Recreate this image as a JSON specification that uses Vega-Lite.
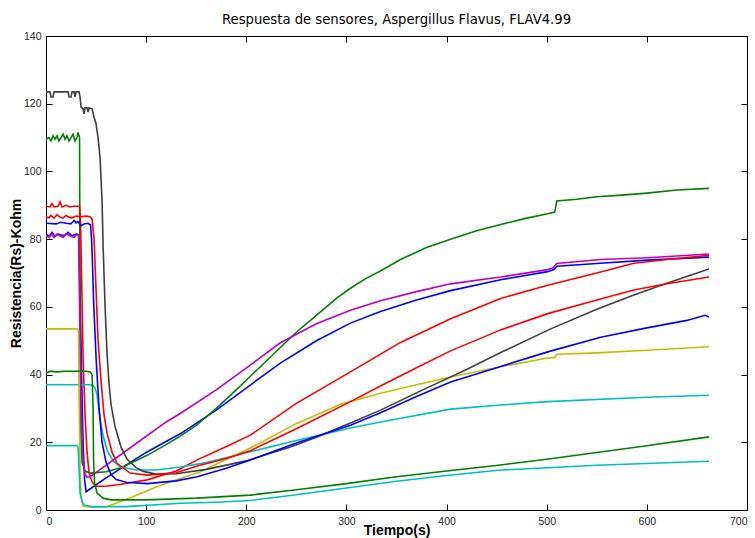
{
  "$schema": "https://vega.github.io/schema/vega-lite/v6.json",
  "autosize": "none",
  "width": 701,
  "height": 474,
  "padding": {"left": 46, "top": 36, "right": 8, "bottom": 28},
  "background": "white",
  "title": {"text": "Respuesta de sensores, Aspergillus Flavus, FLAV4.99", "font": "DejaVu Sans", "fontSize": 13.2, "fontWeight": "normal", "color": "#000000", "offset": 4, "anchor": "middle"},
  "config": {
    "view": {"stroke": "#000000", "strokeWidth": 1},
    "axis": {"domain": false, "grid": false, "tickColor": "#000000", "tickSize": -6, "labelFont": "Liberation Sans", "labelFontSize": 10.5, "labelColor": "#262626", "titleFont": "Liberation Sans", "titleFontSize": 14, "titleFontWeight": "bold", "titleColor": "#000000"}
  },
  "data": {"values": [
    {"s":"b1","t":0,"v":81.3},{"s":"b1","t":4,"v":81},{"s":"b1","t":6,"v":82},{"s":"b1","t":9,"v":80.8},{"s":"b1","t":12,"v":81.5},{"s":"b1","t":18,"v":81},{"s":"b1","t":22,"v":82},{"s":"b1","t":26,"v":81},{"s":"b1","t":30,"v":81.5},{"s":"b1","t":33,"v":81.2},{"s":"b1","t":34,"v":65},{"s":"b1","t":35.5,"v":40},{"s":"b1","t":37,"v":20},{"s":"b1","t":38.5,"v":9},{"s":"b1","t":40,"v":5.4},{"s":"b1","t":60,"v":9.5},{"s":"b1","t":100,"v":17},{"s":"b1","t":134,"v":22.5},{"s":"b1","t":170,"v":29.5},{"s":"b1","t":204,"v":36.9},{"s":"b1","t":234,"v":43.4},{"s":"b1","t":270,"v":50},{"s":"b1","t":304,"v":55.2},{"s":"b1","t":334,"v":58.6},{"s":"b1","t":370,"v":62},{"s":"b1","t":404,"v":64.8},{"s":"b1","t":454,"v":68},{"s":"b1","t":501,"v":70.4},{"s":"b1","t":507,"v":71},{"s":"b1","t":510,"v":72},{"s":"b1","t":550,"v":72.8},{"s":"b1","t":600,"v":73.8},{"s":"b1","t":662,"v":74.7},

    {"s":"g1","t":0,"v":109.5},{"s":"g1","t":3,"v":110},{"s":"g1","t":5,"v":109},{"s":"g1","t":7,"v":110.5},{"s":"g1","t":9,"v":109.5},{"s":"g1","t":11,"v":110.5},{"s":"g1","t":13,"v":109},{"s":"g1","t":15,"v":110},{"s":"g1","t":17,"v":111},{"s":"g1","t":19,"v":109.5},{"s":"g1","t":21,"v":110.5},{"s":"g1","t":23,"v":109},{"s":"g1","t":25,"v":110},{"s":"g1","t":27,"v":111},{"s":"g1","t":29,"v":109},{"s":"g1","t":31,"v":110},{"s":"g1","t":32,"v":111.5},{"s":"g1","t":33.5,"v":110},{"s":"g1","t":34,"v":60},{"s":"g1","t":34.5,"v":25},{"s":"g1","t":36,"v":14},{"s":"g1","t":39,"v":11.5},{"s":"g1","t":44,"v":10.9},{"s":"g1","t":60,"v":11.3},{"s":"g1","t":75,"v":12.5},{"s":"g1","t":100,"v":16},{"s":"g1","t":120,"v":19.3},{"s":"g1","t":134,"v":21.8},{"s":"g1","t":150,"v":25},{"s":"g1","t":170,"v":30},{"s":"g1","t":190,"v":35.5},{"s":"g1","t":204,"v":39.5},{"s":"g1","t":220,"v":44},{"s":"g1","t":234,"v":48},{"s":"g1","t":250,"v":52.5},{"s":"g1","t":270,"v":57.5},{"s":"g1","t":290,"v":62.5},{"s":"g1","t":304,"v":65.5},{"s":"g1","t":320,"v":68.5},{"s":"g1","t":334,"v":70.6},{"s":"g1","t":354,"v":74},{"s":"g1","t":380,"v":77.5},{"s":"g1","t":404,"v":80},{"s":"g1","t":430,"v":82.5},{"s":"g1","t":454,"v":84.3},{"s":"g1","t":480,"v":86.2},{"s":"g1","t":501,"v":87.5},{"s":"g1","t":508,"v":88},{"s":"g1","t":510,"v":91.3},{"s":"g1","t":530,"v":91.8},{"s":"g1","t":550,"v":92.5},{"s":"g1","t":575,"v":93},{"s":"g1","t":600,"v":93.6},{"s":"g1","t":630,"v":94.5},{"s":"g1","t":662,"v":95},

    {"s":"r1","t":0,"v":89.7},{"s":"r1","t":4,"v":89.5},{"s":"r1","t":6,"v":90.5},{"s":"r1","t":8,"v":89.5},{"s":"r1","t":12,"v":89.7},{"s":"r1","t":14,"v":91},{"s":"r1","t":16,"v":89.5},{"s":"r1","t":20,"v":90},{"s":"r1","t":24,"v":89.5},{"s":"r1","t":28,"v":89.7},{"s":"r1","t":33.5,"v":89.7},{"s":"r1","t":34.5,"v":85},{"s":"r1","t":35.5,"v":70},{"s":"r1","t":37,"v":45},{"s":"r1","t":39,"v":28},{"s":"r1","t":41,"v":17},{"s":"r1","t":43,"v":11},{"s":"r1","t":46,"v":8.3},{"s":"r1","t":50,"v":7},{"s":"r1","t":60,"v":7},{"s":"r1","t":75,"v":7.6},{"s":"r1","t":101,"v":8.9},{"s":"r1","t":130,"v":11.5},{"s":"r1","t":151,"v":14.8},{"s":"r1","t":184,"v":19.3},{"s":"r1","t":204,"v":22.1},{"s":"r1","t":250,"v":31.5},{"s":"r1","t":304,"v":40.8},{"s":"r1","t":354,"v":49.5},{"s":"r1","t":404,"v":56.5},{"s":"r1","t":454,"v":62.5},{"s":"r1","t":501,"v":66.4},{"s":"r1","t":550,"v":70},{"s":"r1","t":587,"v":72.9},{"s":"r1","t":620,"v":74},{"s":"r1","t":662,"v":75.2},

    {"s":"c1","t":0,"v":37},{"s":"c1","t":20,"v":37},{"s":"c1","t":44,"v":37},{"s":"c1","t":47,"v":36.8},{"s":"c1","t":49,"v":36},{"s":"c1","t":51,"v":34},{"s":"c1","t":54,"v":27},{"s":"c1","t":57,"v":22},{"s":"c1","t":61,"v":17.7},{"s":"c1","t":67,"v":14.5},{"s":"c1","t":74,"v":12.8},{"s":"c1","t":90,"v":11.8},{"s":"c1","t":110,"v":11.8},{"s":"c1","t":134,"v":12.7},{"s":"c1","t":160,"v":14},{"s":"c1","t":204,"v":17.2},{"s":"c1","t":250,"v":20.5},{"s":"c1","t":304,"v":24.2},{"s":"c1","t":334,"v":26},{"s":"c1","t":404,"v":29.8},{"s":"c1","t":454,"v":31},{"s":"c1","t":501,"v":32},{"s":"c1","t":600,"v":33.3},{"s":"c1","t":662,"v":33.9},

    {"s":"m","t":0,"v":81},{"s":"m","t":3,"v":80.5},{"s":"m","t":5,"v":81.5},{"s":"m","t":8,"v":80.5},{"s":"m","t":11,"v":81.5},{"s":"m","t":14,"v":81},{"s":"m","t":17,"v":80.5},{"s":"m","t":20,"v":81.5},{"s":"m","t":24,"v":81},{"s":"m","t":28,"v":80.5},{"s":"m","t":31,"v":81.5},{"s":"m","t":32.5,"v":81},{"s":"m","t":33.5,"v":60},{"s":"m","t":35,"v":30},{"s":"m","t":37,"v":15},{"s":"m","t":39,"v":10.5},{"s":"m","t":41,"v":9.7},{"s":"m","t":44,"v":9.8},{"s":"m","t":80,"v":17.5},{"s":"m","t":120,"v":26},{"s":"m","t":134,"v":28.5},{"s":"m","t":170,"v":35.5},{"s":"m","t":204,"v":42.8},{"s":"m","t":234,"v":49.4},{"s":"m","t":270,"v":55},{"s":"m","t":304,"v":59},{"s":"m","t":334,"v":61.8},{"s":"m","t":370,"v":64.5},{"s":"m","t":404,"v":66.8},{"s":"m","t":454,"v":68.8},{"s":"m","t":501,"v":71},{"s":"m","t":506,"v":71.5},{"s":"m","t":510,"v":72.8},{"s":"m","t":554,"v":74},{"s":"m","t":600,"v":74.5},{"s":"m","t":630,"v":75},{"s":"m","t":662,"v":75.6},

    {"s":"y","t":0,"v":53.5},{"s":"y","t":31,"v":53.5},{"s":"y","t":32.5,"v":53},{"s":"y","t":33,"v":35},{"s":"y","t":34,"v":12},{"s":"y","t":35,"v":4},{"s":"y","t":37,"v":1.2},{"s":"y","t":45,"v":0.8},{"s":"y","t":60,"v":0.9},{"s":"y","t":87,"v":3.9},{"s":"y","t":110,"v":6.8},{"s":"y","t":134,"v":9.3},{"s":"y","t":154,"v":11.2},{"s":"y","t":170,"v":13.5},{"s":"y","t":204,"v":18.3},{"s":"y","t":250,"v":25.5},{"s":"y","t":294,"v":31.2},{"s":"y","t":334,"v":34.5},{"s":"y","t":370,"v":37},{"s":"y","t":404,"v":39.3},{"s":"y","t":454,"v":42.3},{"s":"y","t":501,"v":44.9},{"s":"y","t":508,"v":45},{"s":"y","t":510,"v":46},{"s":"y","t":550,"v":46.4},{"s":"y","t":600,"v":47.2},{"s":"y","t":662,"v":48.2},

    {"s":"k","t":0,"v":123.5},{"s":"k","t":4,"v":123.5},{"s":"k","t":5,"v":122},{"s":"k","t":7,"v":122},{"s":"k","t":8,"v":123.5},{"s":"k","t":22,"v":123.5},{"s":"k","t":23,"v":122},{"s":"k","t":25,"v":122},{"s":"k","t":26,"v":123.5},{"s":"k","t":28,"v":123.5},{"s":"k","t":29,"v":122},{"s":"k","t":30,"v":123.5},{"s":"k","t":33,"v":123.5},{"s":"k","t":34,"v":122},{"s":"k","t":35,"v":119},{"s":"k","t":37,"v":118.5},{"s":"k","t":38,"v":117},{"s":"k","t":39,"v":118.8},{"s":"k","t":41,"v":118.8},{"s":"k","t":42,"v":117.5},{"s":"k","t":43,"v":118.8},{"s":"k","t":46,"v":118.5},{"s":"k","t":48,"v":116},{"s":"k","t":50,"v":114},{"s":"k","t":52,"v":110},{"s":"k","t":54,"v":104},{"s":"k","t":56,"v":91},{"s":"k","t":57,"v":78},{"s":"k","t":59,"v":60},{"s":"k","t":61,"v":46},{"s":"k","t":63,"v":37},{"s":"k","t":65,"v":31},{"s":"k","t":69,"v":24.6},{"s":"k","t":75,"v":18.5},{"s":"k","t":81,"v":15},{"s":"k","t":90,"v":12.5},{"s":"k","t":97,"v":11.4},{"s":"k","t":110,"v":10.6},{"s":"k","t":130,"v":10.7},{"s":"k","t":160,"v":12},{"s":"k","t":200,"v":14.5},{"s":"k","t":244,"v":18.6},{"s":"k","t":270,"v":21.5},{"s":"k","t":304,"v":25.7},{"s":"k","t":334,"v":29.5},{"s":"k","t":380,"v":36},{"s":"k","t":420,"v":41.5},{"s":"k","t":454,"v":46.5},{"s":"k","t":504,"v":53.5},{"s":"k","t":550,"v":59.3},{"s":"k","t":587,"v":63.5},{"s":"k","t":620,"v":67},{"s":"k","t":662,"v":71.2},

    {"s":"b2","t":0,"v":84.7},{"s":"b2","t":10,"v":84.5},{"s":"b2","t":15,"v":85},{"s":"b2","t":20,"v":84.7},{"s":"b2","t":25,"v":84.5},{"s":"b2","t":28,"v":85.5},{"s":"b2","t":30,"v":84.8},{"s":"b2","t":32,"v":85.2},{"s":"b2","t":35,"v":84},{"s":"b2","t":38,"v":84.5},{"s":"b2","t":42,"v":84.7},{"s":"b2","t":44.5,"v":84.2},{"s":"b2","t":45.5,"v":80},{"s":"b2","t":46.5,"v":72},{"s":"b2","t":47.5,"v":62},{"s":"b2","t":50,"v":45},{"s":"b2","t":53,"v":30},{"s":"b2","t":56,"v":20},{"s":"b2","t":60,"v":14},{"s":"b2","t":65,"v":10.5},{"s":"b2","t":70,"v":9},{"s":"b2","t":80,"v":8.2},{"s":"b2","t":101,"v":7.8},{"s":"b2","t":130,"v":8.6},{"s":"b2","t":151,"v":9.8},{"s":"b2","t":180,"v":12.3},{"s":"b2","t":204,"v":14.8},{"s":"b2","t":250,"v":19.8},{"s":"b2","t":304,"v":25},{"s":"b2","t":334,"v":28.7},{"s":"b2","t":370,"v":33.5},{"s":"b2","t":404,"v":37.8},{"s":"b2","t":454,"v":42.4},{"s":"b2","t":501,"v":46.7},{"s":"b2","t":554,"v":51},{"s":"b2","t":600,"v":53.8},{"s":"b2","t":640,"v":56},{"s":"b2","t":658,"v":57.5},{"s":"b2","t":662,"v":57},

    {"s":"g2","t":0,"v":40.5},{"s":"g2","t":5,"v":41},{"s":"g2","t":10,"v":40.8},{"s":"g2","t":20,"v":41},{"s":"g2","t":30,"v":41},{"s":"g2","t":40,"v":41},{"s":"g2","t":44,"v":40.8},{"s":"g2","t":46,"v":40},{"s":"g2","t":47,"v":30},{"s":"g2","t":47.5,"v":15},{"s":"g2","t":48.5,"v":8},{"s":"g2","t":51,"v":5},{"s":"g2","t":57,"v":3.5},{"s":"g2","t":65,"v":3},{"s":"g2","t":100,"v":3},{"s":"g2","t":150,"v":3.5},{"s":"g2","t":204,"v":4.4},{"s":"g2","t":250,"v":6},{"s":"g2","t":300,"v":7.8},{"s":"g2","t":350,"v":9.8},{"s":"g2","t":400,"v":11.5},{"s":"g2","t":454,"v":13.3},{"s":"g2","t":500,"v":15},{"s":"g2","t":550,"v":17},{"s":"g2","t":600,"v":19},{"s":"g2","t":662,"v":21.6},

    {"s":"r2","t":0,"v":86.6},{"s":"r2","t":3,"v":86.3},{"s":"r2","t":5,"v":87},{"s":"r2","t":8,"v":86.2},{"s":"r2","t":11,"v":87.2},{"s":"r2","t":14,"v":86.5},{"s":"r2","t":17,"v":86.2},{"s":"r2","t":20,"v":87},{"s":"r2","t":23,"v":86.5},{"s":"r2","t":26,"v":86.3},{"s":"r2","t":30,"v":86.8},{"s":"r2","t":35,"v":86.6},{"s":"r2","t":40,"v":86.8},{"s":"r2","t":44,"v":86.6},{"s":"r2","t":46,"v":86},{"s":"r2","t":48,"v":80},{"s":"r2","t":50,"v":65},{"s":"r2","t":52,"v":50},{"s":"r2","t":55,"v":38},{"s":"r2","t":58,"v":28},{"s":"r2","t":61,"v":22.7},{"s":"r2","t":66,"v":17},{"s":"r2","t":71,"v":13.8},{"s":"r2","t":84,"v":10.9},{"s":"r2","t":101,"v":10.3},{"s":"r2","t":130,"v":11},{"s":"r2","t":151,"v":13},{"s":"r2","t":180,"v":15.2},{"s":"r2","t":204,"v":17.5},{"s":"r2","t":250,"v":24},{"s":"r2","t":304,"v":32},{"s":"r2","t":334,"v":36.6},{"s":"r2","t":370,"v":42},{"s":"r2","t":404,"v":47},{"s":"r2","t":454,"v":53.2},{"s":"r2","t":501,"v":58},{"s":"r2","t":550,"v":62},{"s":"r2","t":587,"v":65},{"s":"r2","t":620,"v":66.8},{"s":"r2","t":662,"v":68.8},

    {"s":"c2","t":0,"v":19},{"s":"c2","t":31,"v":19},{"s":"c2","t":32,"v":18.5},{"s":"c2","t":33,"v":12},{"s":"c2","t":34,"v":5},{"s":"c2","t":36,"v":2.5},{"s":"c2","t":38,"v":1.5},{"s":"c2","t":45,"v":1},{"s":"c2","t":80,"v":1},{"s":"c2","t":134,"v":2},{"s":"c2","t":170,"v":2.3},{"s":"c2","t":204,"v":2.8},{"s":"c2","t":250,"v":4.5},{"s":"c2","t":300,"v":6.5},{"s":"c2","t":350,"v":8.5},{"s":"c2","t":400,"v":10.2},{"s":"c2","t":454,"v":11.8},{"s":"c2","t":550,"v":13.2},{"s":"c2","t":662,"v":14.4}
  ]},
  "layer": [
    {
      "mark": {"type": "line", "strokeWidth": 1.6, "clip": true},
      "encoding": {
        "x": {"field": "t", "type": "quantitative", "scale": {"domain": [0, 700], "nice": false}, "axis": {"values": [0,100,200,300,400,500,600,700], "title": "Tiempo(s)", "labelPadding": 12, "titlePadding": -3}},
        "y": {"field": "v", "type": "quantitative", "scale": {"domain": [0, 140], "nice": false}, "axis": {"values": [0,20,40,60,80,100,120,140], "title": "Resistencia(Rs)-Kohm", "labelPadding": 11, "titlePadding": 0}},
        "color": {"field": "s", "type": "nominal", "legend": null, "scale": {"domain": ["b1","g1","r1","c1","m","y","k","b2","g2","r2","c2"], "range": ["#0000FF","#008000","#FF0000","#00BFBF","#BF00BF","#BFBF00","#404040","#0000FF","#008000","#FF0000","#00BFBF"]}},
        "order": {"field": "t", "type": "quantitative"}
      }
    },
    {
      "mark": {"type": "line", "strokeOpacity": 0},
      "encoding": {
        "x": {"field": "t", "type": "quantitative", "axis": {"orient": "top", "values": [0,100,200,300,400,500,600,700], "labels": false, "title": null}},
        "y": {"field": "v", "type": "quantitative", "axis": {"orient": "right", "values": [0,20,40,60,80,100,120,140], "labels": false, "title": null}},
        "detail": {"field": "s"}
      }
    }
  ],
  "resolve": {"axis": {"x": "independent", "y": "independent"}}
}
